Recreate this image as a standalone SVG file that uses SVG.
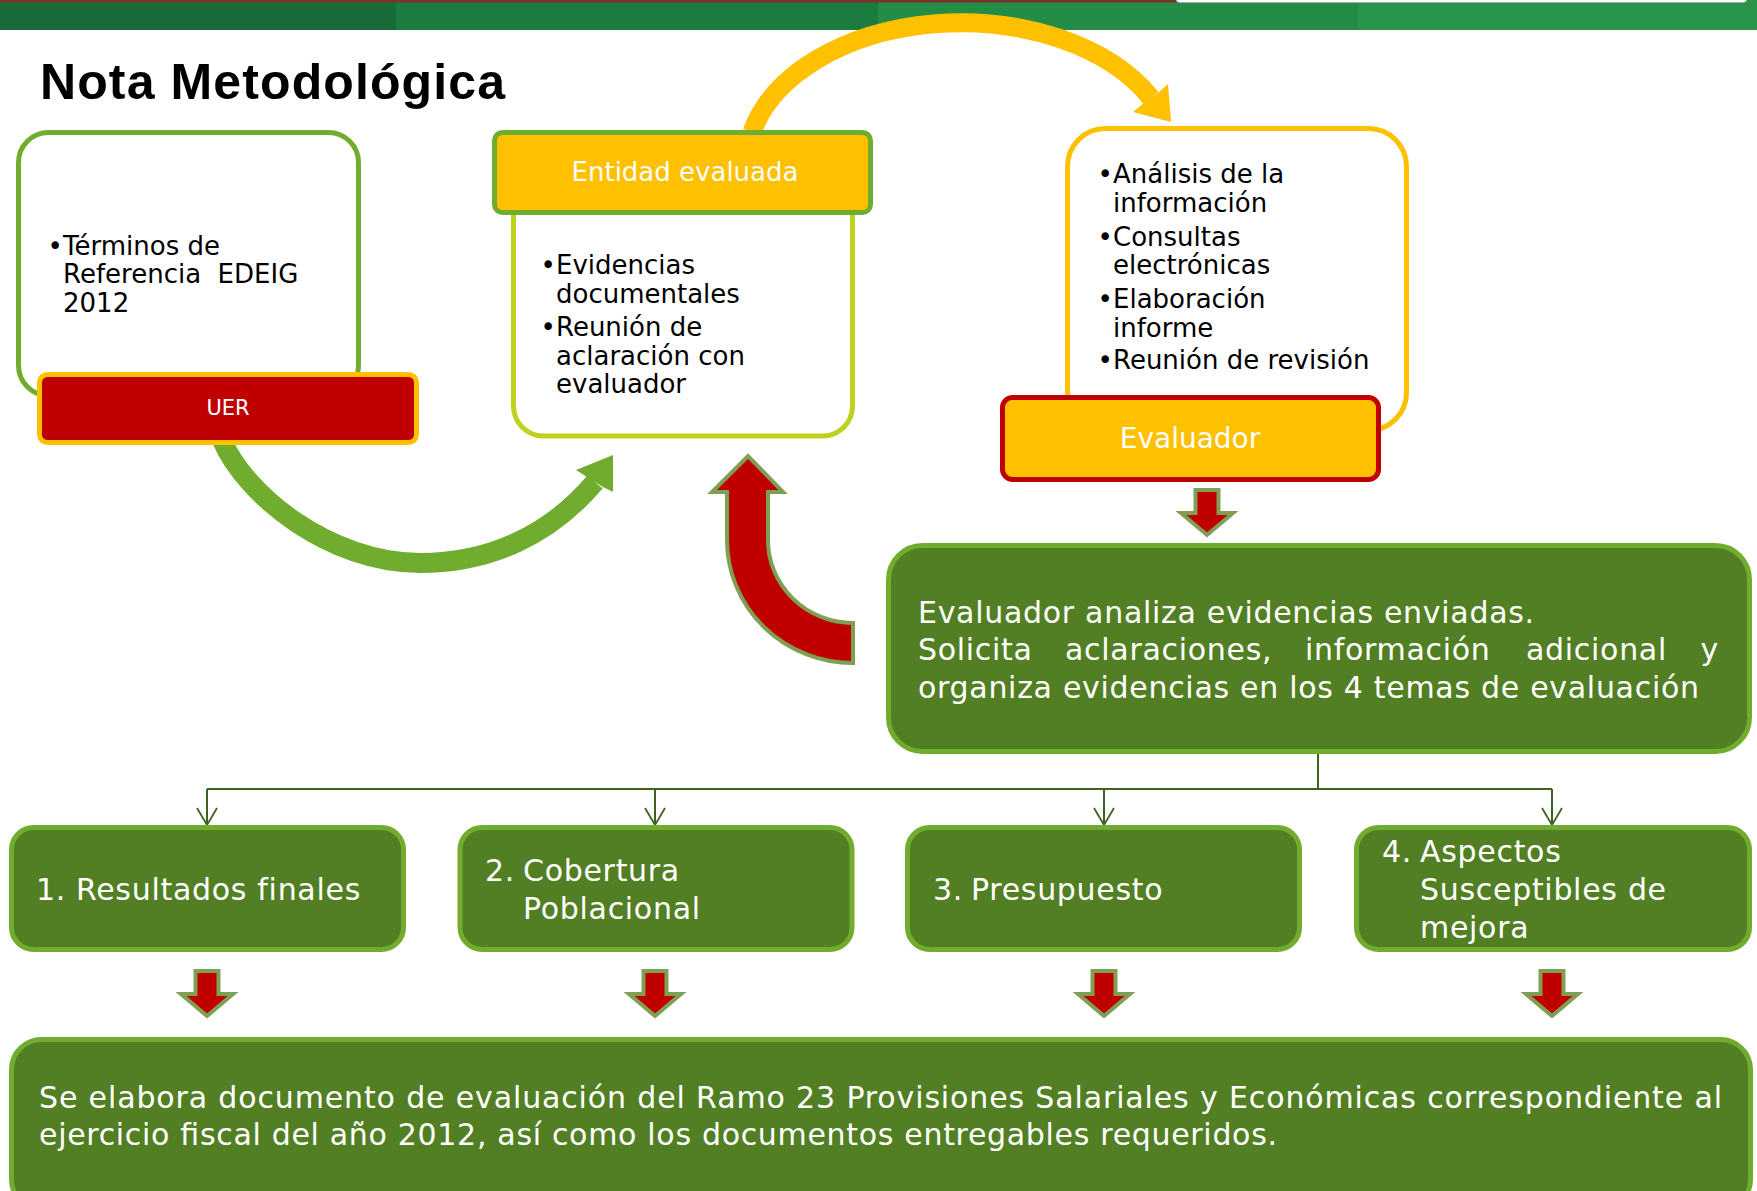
<svg xmlns="http://www.w3.org/2000/svg" width="1757" height="1191" viewBox="0 0 1757 1191">
<style>
.body{font-family:"DejaVu Sans",sans-serif;font-size:26px;fill:#000}
.hdr{font-family:"DejaVu Sans",sans-serif;fill:#fff;text-anchor:middle}
.wt{font-family:"DejaVu Sans",sans-serif;font-size:30px;fill:#fff;letter-spacing:0.7px}
.gbox{fill:#537f24;stroke:#70ad2f;stroke-width:5}
.conn{fill:none;stroke:#3d6320;stroke-width:2}
.dn{fill:#c00000;stroke:#7f9f55;stroke-width:4;stroke-linejoin:miter}
</style>
<defs>
<marker id="vhead" viewBox="-1 -11 20 22" refX="17" refY="0" markerWidth="20" markerHeight="22" markerUnits="userSpaceOnUse" orient="auto">
<path d="M0,-10 L17,0 L0,10" fill="none" stroke="#3d6320" stroke-width="1.8"/>
</marker>
<path id="downArrow" class="dn" d="M-11.5,2 L11.5,2 L11.5,25 L26,25 L0,47 L-26,25 L-11.5,25 Z"/>
</defs>
<rect width="1757" height="1191" fill="#fff"/>
<!-- header bar -->
<g id="header">
<rect x="0" y="0" width="396" height="30" fill="#1a6b3a"/>
<rect x="396" y="0" width="482" height="30" fill="#1c7b40"/>
<rect x="878" y="0" width="480" height="30" fill="#238c46"/>
<rect x="1358" y="0" width="399" height="30" fill="#28954a"/>
<rect x="0" y="0" width="1176" height="2.5" fill="#7a3328"/>
<rect x="1176" y="-10" width="571" height="12.5" rx="4" fill="#fff" stroke="#9aa" stroke-width="0.6"/>
</g>
<text id="title" x="40" y="99" font-family="Liberation Sans, Arial, sans-serif" font-weight="bold" font-size="50" textLength="465" fill="#000">Nota Metodológica</text>
<!-- connectors -->
<g id="connectors">
<path d="M752,132 A215,142 0 0 1 1151,98" fill="none" stroke="#ffc000" stroke-width="19"/>
<polygon points="1171,122 1133,112 1144,103 1158,93 1168,84" fill="#ffc000"/>
<path d="M222,440 C245,495 330,563 420,563 C490,563 550,535 595,482" fill="none" stroke="#70ad2f" stroke-width="20"/>
<polygon points="613,455 576,470 587,477 603,487 613,492" fill="#70ad2f"/>
<path d="M727,492 L712,492 L748,456 L783,492 L768,492 L768,540 A85,83 0 0 0 853,623 L853,663 A126,123 0 0 1 727,540 Z" fill="#c00000" stroke="#7f9f55" stroke-width="4" stroke-linejoin="miter"/>
<use href="#downArrow" x="1207" y="488"/>
<path class="conn" d="M1318,754 V789" stroke-width="2.6"/>
<path class="conn" d="M207,789 H1552" stroke-width="2.6"/>
<path class="conn" d="M207,789 V825" marker-end="url(#vhead)"/>
<path class="conn" d="M655,789 V825" marker-end="url(#vhead)"/>
<path class="conn" d="M1104,789 V825" marker-end="url(#vhead)"/>
<path class="conn" d="M1552,789 V825" marker-end="url(#vhead)"/>
<use href="#downArrow" x="207" y="969"/>
<use href="#downArrow" x="655" y="969"/>
<use href="#downArrow" x="1104" y="969"/>
<use href="#downArrow" x="1552" y="969"/>
</g>
<!-- UER node -->
<g id="node-uer">
<rect x="18.5" y="132.5" width="340" height="263" rx="30" fill="#fff" stroke="#70ad2f" stroke-width="5"/>
<text class="body"><tspan x="47.5" y="255">•</tspan><tspan x="63" y="255">Términos de</tspan><tspan x="63" y="283">Referencia&#160; EDEIG</tspan><tspan x="63" y="312">2012</tspan></text>
<rect x="39.5" y="374.5" width="377" height="68" rx="8" fill="#c00000" stroke="#ffc000" stroke-width="5"/>
<text class="hdr" x="228" y="415" font-size="21">UER</text>
</g>
<!-- Entidad evaluada node -->
<g id="node-entidad">
<rect x="513.5" y="168" width="339" height="268" rx="30" fill="#fff" stroke="#bdd21f" stroke-width="5"/>
<text class="body"><tspan x="540.5" y="274">•</tspan><tspan x="556" y="274">Evidencias</tspan><tspan x="556" y="303">documentales</tspan><tspan x="540.5" y="336">•</tspan><tspan x="556" y="336">Reunión de</tspan><tspan x="556" y="365">aclaración con</tspan><tspan x="556" y="393">evaluador</tspan></text>
<rect x="494.5" y="132.5" width="376" height="80" rx="8" fill="#ffc000" stroke="#70ad2f" stroke-width="5"/>
<text class="hdr" x="685" y="181" font-size="26">Entidad evaluada</text>
</g>
<!-- Evaluador node -->
<g id="node-evaluador">
<rect x="1067.5" y="128.5" width="339" height="302" rx="38" fill="#fff" stroke="#ffc000" stroke-width="5"/>
<text class="body"><tspan x="1097.5" y="183">•</tspan><tspan x="1113" y="183">Análisis de la</tspan><tspan x="1113" y="212">información</tspan><tspan x="1097.5" y="246">•</tspan><tspan x="1113" y="246">Consultas</tspan><tspan x="1113" y="274">electrónicas</tspan><tspan x="1097.5" y="308">•</tspan><tspan x="1113" y="308">Elaboración</tspan><tspan x="1113" y="337">informe</tspan><tspan x="1097.5" y="369">•</tspan><tspan x="1113" y="369">Reunión de revisión</tspan></text>
<rect x="1002.5" y="397.5" width="376" height="82" rx="10" fill="#ffc000" stroke="#c00000" stroke-width="5"/>
<text class="hdr" x="1190" y="448" font-size="28">Evaluador</text>
</g>
<!-- Analysis node -->
<g id="node-analiza">
<rect class="gbox" x="888.5" y="545.5" width="861" height="206" rx="34"/>
<text class="wt" x="918" y="623">Evaluador analiza evidencias enviadas.</text>
<text class="wt" y="660"><tspan x="918">Solicita</tspan><tspan x="1065">aclaraciones,</tspan><tspan x="1305">información</tspan><tspan x="1526">adicional</tspan></text>
<text class="wt" x="1719" y="660" text-anchor="end">y</text>
<text class="wt" x="918" y="698">organiza evidencias en los 4 temas de evaluación</text>
</g>
<!-- four theme nodes -->
<g id="node-resultados">
<rect class="gbox" x="11.5" y="827.5" width="392" height="122" rx="22"/>
<text class="wt" y="900"><tspan x="36">1.</tspan><tspan x="76">Resultados finales</tspan></text>
</g>
<g id="node-cobertura">
<rect class="gbox" x="460" y="827.5" width="392" height="122" rx="22"/>
<text class="wt"><tspan x="485" y="881">2.</tspan><tspan x="523" y="881">Cobertura</tspan><tspan x="523" y="919">Poblacional</tspan></text>
</g>
<g id="node-presupuesto">
<rect class="gbox" x="907.5" y="827.5" width="392" height="122" rx="22"/>
<text class="wt" y="900"><tspan x="933">3.</tspan><tspan x="971">Presupuesto</tspan></text>
</g>
<g id="node-aspectos">
<rect class="gbox" x="1356.5" y="827.5" width="393" height="122" rx="22"/>
<text class="wt"><tspan x="1382" y="862">4.</tspan><tspan x="1420" y="862">Aspectos</tspan><tspan x="1420" y="900">Susceptibles de</tspan><tspan x="1420" y="938">mejora</tspan></text>
</g>
<!-- final node -->
<g id="node-final">
<rect class="gbox" x="11.5" y="1039.5" width="1739" height="170" rx="30"/>
<text class="wt" x="39" y="1108" textLength="1683" lengthAdjust="spacing" style="letter-spacing:0">Se elabora documento de evaluación del Ramo 23 Provisiones Salariales y Económicas correspondiente al</text>
<text class="wt" x="39" y="1145" textLength="1238" lengthAdjust="spacing" style="letter-spacing:0">ejercicio fiscal del año 2012, así como los documentos entregables requeridos.</text>
</g>
</svg>
